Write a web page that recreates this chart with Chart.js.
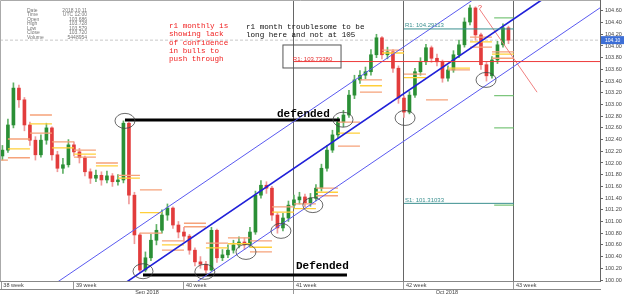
<!DOCTYPE html>
<html>
<head>
<meta charset="utf-8">
<title>USDJPY H1 channel</title>
<script src="https://cdn.jsdelivr.net/npm/chart.js@4.4.1/dist/chart.umd.min.js"></script>
<style>
  body { margin: 0; background: #fff; }
  #chart { display: block; }
</style>
</head>
<body>
<canvas id="chart" width="625" height="294"></canvas>
<script>
// x unit = trading day, day 0 starts on the first full day shown
var dayMin = -0.36, dayMax = 26.91;
var priceMin = 99.983, priceMax = 104.786;

// one price bar every quarter day
var firstBarDay = -0.25;
var barStep = 0.25;
var firstOpen = 102.12;
var closes = [
  102.22, 102.65, 103.28, 103.08, 102.65, 102.39, 102.14, 102.39, 102.60, 102.14,
  101.91, 101.97, 102.31, 102.19, 102.09, 101.85, 101.74, 101.79, 101.71, 101.78,
  101.68, 101.71, 102.68, 101.45, 100.77, 100.17, 100.38, 100.68, 100.85, 101.11,
  101.23, 100.94, 100.82, 100.75, 100.51, 100.31, 100.27, 100.17, 100.85, 100.38,
  100.43, 100.51, 100.60, 100.65, 100.60, 100.82, 101.45, 101.62, 101.57, 101.11,
  100.89, 101.06, 101.28, 101.37, 101.42, 101.32, 101.40, 101.57, 101.91, 102.22,
  102.48, 102.70, 102.82, 103.16, 103.42, 103.50, 103.56, 103.85, 104.14, 103.85,
  103.90, 103.62, 103.11, 102.87, 103.16, 103.56, 103.73, 103.97, 103.79, 103.73,
  103.45, 103.59, 103.85, 104.02, 104.41, 104.65, 104.19, 103.68, 103.49, 103.76,
  104.02, 104.31, 104.10
];
var highs = [
  102.30, 102.75, 103.37, 103.33, 103.12, 102.70, 102.45, 102.48, 102.68, 102.62,
  102.20, 102.08, 102.40, 102.36, 102.25, 102.12, 101.90, 101.88, 101.85, 101.86,
  101.82, 101.80, 102.72, 102.70, 101.50, 100.80, 100.48, 100.78, 100.95, 101.20,
  101.30, 101.25, 101.00, 100.90, 100.78, 100.55, 100.40, 100.32, 100.90, 100.87,
  100.52, 100.60, 100.68, 100.74, 100.72, 100.90, 101.52, 101.70, 101.68, 101.60,
  101.15, 101.14, 101.35, 101.45, 101.50, 101.47, 101.48, 101.63, 101.98, 102.30,
  102.56, 102.78, 102.90, 103.24, 103.50, 103.58, 103.64, 103.94, 104.20, 104.16,
  103.98, 103.94, 103.66, 103.15, 103.22, 103.62, 103.80, 104.03, 104.00, 103.86,
  103.76, 103.66, 103.92, 104.10, 104.48, 104.70, 104.67, 104.22, 103.72, 103.82,
  104.08, 104.38, 104.34
];
var lows = [
  102.05, 102.18, 102.60, 102.95, 102.55, 102.30, 102.05, 102.10, 102.32, 102.05,
  101.85, 101.82, 101.93, 102.12, 102.00, 101.78, 101.65, 101.68, 101.62, 101.66,
  101.60, 101.62, 101.66, 101.30, 100.62, 100.12, 100.14, 100.33, 100.60, 100.80,
  101.02, 100.88, 100.72, 100.66, 100.44, 100.24, 100.20, 100.12, 100.15, 100.30,
  100.33, 100.38, 100.46, 100.55, 100.52, 100.56, 100.78, 101.40, 101.48, 101.02,
  100.80, 100.84, 101.00, 101.22, 101.30, 101.25, 101.26, 101.35, 101.52, 101.86,
  102.18, 102.42, 102.62, 102.78, 103.10, 103.36, 103.44, 103.50, 103.80, 103.78,
  103.78, 103.55, 103.02, 102.78, 102.84, 103.12, 103.50, 103.68, 103.72, 103.66,
  103.38, 103.40, 103.55, 103.80, 103.98, 104.36, 104.10, 103.60, 103.40, 103.45,
  103.70, 103.98, 104.04
];

// daily pivot levels [day, price]
var orangeLevels = [
  [-1, 102.05], [0, 102.41], [0, 102.09], [1, 102.82], [1, 102.51], [2, 102.36],
  [3, 102.22], [3, 102.10], [4, 102.00], [5, 101.79], [6, 101.54], [6, 100.80],
  [7, 100.67], [7, 100.51], [8, 100.97], [8, 100.91], [9, 100.63], [10, 100.72],
  [11, 100.67], [11, 100.48], [12, 101.25], [13, 101.30], [14, 101.57], [14, 101.44],
  [15, 102.70], [15, 102.29], [16, 103.42], [16, 103.21], [17, 103.93], [18, 103.52],
  [19, 103.08], [20, 103.59], [21, 104.15], [21, 103.98], [22, 103.90], [22, 103.79]
];
var yellowLevels = [
  [0, 102.24], [1, 102.67], [2, 102.26], [3, 102.15], [4, 101.95], [5, 101.74],
  [6, 101.15], [7, 100.60], [9, 100.55], [10, 100.62], [11, 100.56], [12, 101.16],
  [13, 101.22], [14, 101.50], [15, 102.51], [16, 103.32], [17, 103.88], [18, 103.46],
  [20, 103.62], [21, 104.07], [22, 103.86]
];
var weeklyLevels = [[22.1, 104.48], [22.1, 103.15], [22.1, 102.60], [22.1, 101.28]];

var monthlyR1 = 103.7338;
var r1Level = 104.29113;
var s1Level = 101.31033;

// hand drawn channel and marks
var channelUpper = [[2.27, 99.97], [21.14, 104.79]];
var channelMid = [[5.41, 99.97], [24.27, 104.79]];
var channelLower = [[8.59, 99.97], [27.45, 104.79]];
var redArrow = [[21.45, 104.62], [24.05, 103.21]];
var defendedTop = [[5.32, 102.735], [15.09, 102.735]];
var defendedBottom = [[6.14, 100.085], [15.41, 100.085]];
var circleMarks = [
  [5.32, 102.72], [6.14, 100.15], [8.95, 100.14], [10.82, 100.48], [12.41, 100.84],
  [13.86, 101.28], [15.23, 102.74], [18.05, 102.77], [21.73, 103.42]
];

var weekTicks = [-0.3, 3, 8, 13, 18, 23];
var weekLabels = ["38 week", "39 week", "40 week", "41 week", "42 week", "43 week"];
var monthBreak = 13;
var monthTickDays = [6.32, 13, 19.95];
var monthTickLabels = ["Sep 2018", "", "Oct 2018"];
var priceTicks = [100.0, 100.2, 100.4, 100.6, 100.8, 101.0, 101.2, 101.4, 101.6, 101.8,
  102.0, 102.2, 102.4, 102.6, 102.8, 103.0, 103.2, 103.4, 103.6, 103.8,
  104.0, 104.2, 104.4, 104.6];

var infoRows = [["Date", "2018.10.11"], ["Time", "UTC 12:00"], ["Open", "103.686"],
  ["High", "103.728"], ["Low", "103.579"], ["Close", "103.720"], ["Volume", "5448954"]];

var lastClose = closes[closes.length - 1];

function pts(pairs) {
  return pairs.map(function (p) { return { x: p[0], y: p[1] }; });
}

function segments(levels, len) {
  var out = [];
  levels.forEach(function (l) {
    out.push({ x: l[0], y: l[1] }, { x: l[0] + len, y: l[1] }, { x: l[0] + len, y: null });
  });
  return out;
}

function lineSet(data, color, width, extra) {
  var ds = {
    type: 'line', data: data, borderColor: color, borderWidth: width,
    pointRadius: 0, fill: false, tension: 0, xAxisID: 'x', yAxisID: 'y', order: 1
  };
  for (var k in extra) ds[k] = extra[k];
  return ds;
}

var candleData = closes.map(function (c, i) {
  var open = i === 0 ? firstOpen : closes[i - 1];
  return { x: firstBarDay + i * barStep, y: [open, c] };
});
var wickData = closes.map(function (c, i) {
  return { x: firstBarDay + i * barStep, y: [lows[i], highs[i]] };
});
var bodyColors = candleData.map(function (d) {
  return d.y[1] >= d.y[0] ? '#2a8f35' : '#e23c3c';
});
var wickColors = candleData.map(function (d) {
  return d.y[1] >= d.y[0] ? '#5fb065' : '#f09a9a';
});

var overlay = {
  id: 'overlay',
  afterDatasetsDraw: function (chart) {
    var ctx = chart.ctx, area = chart.chartArea;
    var xs = chart.scales.x, ys = chart.scales.y;
    function px(d) { return xs.getPixelForValue(d); }
    function py(p) { return ys.getPixelForValue(p); }

    ctx.save();
    ctx.beginPath();
    ctx.rect(area.left, area.top, area.right - area.left, area.bottom - area.top);
    ctx.clip();

    // circled swing points
    ctx.strokeStyle = '#444';
    ctx.lineWidth = 0.8;
    circleMarks.forEach(function (c) {
      ctx.beginPath();
      ctx.ellipse(px(c[0]), py(c[1]), 10, 7.5, 0, 0, Math.PI * 2);
      ctx.stroke();
    });

    // box around the monthly R1 tag
    ctx.strokeStyle = '#555';
    ctx.lineWidth = 1;
    ctx.strokeRect(px(12.5), py(104.017), px(15.14) - px(12.5), py(103.624) - py(104.017));

    ctx.textBaseline = 'alphabetic';
    ctx.font = '6px "Liberation Sans"';
    ctx.fillStyle = '#e53030';
    ctx.fillText('R1: 103.73380', px(12.95), py(monthlyR1) - 1);
    ctx.fillStyle = '#3a8f8f';
    ctx.fillText('R1: 104.29113', px(18) + 1, py(r1Level) - 1.5);
    ctx.fillText('S1: 101.31033', px(18) + 1, py(s1Level) - 1.5);
    ctx.fillStyle = '#e53030';
    ctx.font = '7px "Liberation Sans"';
    ctx.fillText('?', px(21.36), py(104.62));

    // notes
    ctx.textBaseline = 'middle';
    ctx.font = '7.6px "Liberation Mono"';
    ctx.fillStyle = '#f01e1e';
    ["r1 monthly is", "showing lack", "of confidence", "in bulls to", "push through"]
      .forEach(function (t, i) { ctx.fillText(t, px(7.32), py(104.34) + i * 8.3); });
    ctx.fillStyle = '#111';
    ["r1 month troublesome to be", "long here and not at 105"]
      .forEach(function (t, i) { ctx.fillText(t, px(10.82), py(104.32) + i * 7.8); });

    ctx.textBaseline = 'alphabetic';
    ctx.font = 'bold 11px "Liberation Mono"';
    ctx.fillStyle = '#000';
    ctx.fillText('defended', px(12.23), py(defendedTop[0][1]) - 3);
    ctx.fillText('Defended', px(13.09), py(defendedBottom[0][1]) - 6);
    ctx.restore();
  },
  afterDraw: function (chart) {
    var ctx = chart.ctx, area = chart.chartArea, ys = chart.scales.y;
    ctx.save();
    // frame top and left
    ctx.strokeStyle = '#aaa';
    ctx.lineWidth = 1;
    ctx.beginPath();
    ctx.moveTo(area.left + 0.5, area.bottom);
    ctx.lineTo(area.left + 0.5, area.top + 0.5);
    ctx.lineTo(area.right, area.top + 0.5);
    ctx.stroke();

    // data window
    ctx.font = '5px "Liberation Sans"';
    ctx.fillStyle = '#777';
    ctx.textBaseline = 'middle';
    infoRows.forEach(function (r, i) {
      ctx.textAlign = 'left';
      ctx.fillText(r[0], area.left + 27, area.top + 10.5 + i * 4.5);
      ctx.textAlign = 'right';
      ctx.fillText(r[1], area.left + 87, area.top + 10.5 + i * 4.5);
    });

    // last price tag on the axis
    var y = ys.getPixelForValue(lastClose);
    ctx.fillStyle = '#3d6fd6';
    ctx.fillRect(area.right + 1, y - 4, 23, 8);
    ctx.fillStyle = '#fff';
    ctx.textAlign = 'left';
    ctx.fillText(lastClose.toFixed(2), area.right + 5, y);
    ctx.restore();
  }
};

Chart.defaults.font.family = 'Liberation Sans';

new Chart(document.getElementById('chart').getContext('2d'), {
  type: 'line',
  data: {
    datasets: [
      {
        type: 'bar', data: wickData, backgroundColor: wickColors, borderWidth: 0, grouped: false,
        barThickness: 1, xAxisID: 'x', yAxisID: 'y', order: 6
      },
      {
        type: 'bar', data: candleData, backgroundColor: bodyColors, borderWidth: 0, grouped: false,
        barThickness: 3, xAxisID: 'x', yAxisID: 'y', order: 5
      },
      lineSet(segments(orangeLevels, 1), '#f6a27a', 1.3, { order: 4 }),
      lineSet(segments(yellowLevels, 1), '#ffcf3a', 1.3, { order: 4 }),
      lineSet(segments(weeklyLevels, 0.9), '#5cb85c', 1, { order: 3 }),
      lineSet([{ x: dayMin, y: lastClose }, { x: dayMax, y: lastClose }], '#c8c8c8', 1, { borderDash: [3, 2], order: 7 }),
      lineSet([{ x: monthBreak, y: monthlyR1 }, { x: dayMax, y: monthlyR1 }], '#ee3a3a', 1),
      lineSet([{ x: 18, y: r1Level }, { x: 23, y: r1Level }], '#3a8f8f', 1),
      lineSet([{ x: 18, y: s1Level }, { x: 23, y: s1Level }], '#3a8f8f', 1),
      lineSet(pts(channelUpper), '#5a5af0', 1),
      lineSet(pts(channelMid), '#2020d8', 1.6),
      lineSet(pts(channelLower), '#5a5af0', 1),
      lineSet(pts(redArrow), '#f08080', 1),
      lineSet(pts(defendedTop), '#000', 3),
      lineSet(pts(defendedBottom), '#000', 3)
    ]
  },
  options: {
    responsive: false,
    animation: false,
    devicePixelRatio: 1,
    layout: { padding: 0 },
    plugins: { legend: { display: false }, tooltip: { enabled: false } },
    scales: {
      x: {
        type: 'linear', position: 'bottom', min: dayMin, max: dayMax, bounds: 'data', weight: 0, offset: false,
        afterBuildTicks: function (s) { s.ticks = weekTicks.map(function (v) { return { value: v }; }); },
        afterFit: function (s) { s.height = 8; s.paddingLeft = 0; s.paddingRight = 0; },
        ticks: {
          autoSkip: false, maxRotation: 0, align: 'start', labelOffset: 2, padding: -7,
          color: '#444', font: { size: 5.5 },
          callback: function (v, i) { return weekLabels[i]; }
        },
        grid: {
          offset: false,
          color: function (c) { return c.tick && c.tick.value >= monthBreak ? '#666' : 'rgba(0,0,0,0)'; },
          tickColor: '#999', tickLength: 8, lineWidth: 1
        },
        border: { color: '#888' }
      },
      x2: {
        type: 'linear', position: 'bottom', min: dayMin, max: dayMax, bounds: 'data', weight: 1, offset: false,
        afterBuildTicks: function (s) { s.ticks = monthTickDays.map(function (v) { return { value: v }; }); },
        afterFit: function (s) { s.height = 5; s.paddingLeft = 0; s.paddingRight = 0; },
        ticks: {
          autoSkip: false, maxRotation: 0, padding: -5, color: '#444', font: { size: 5.5 },
          callback: function (v, i) { return monthTickLabels[i]; }
        },
        grid: {
          offset: false, drawOnChartArea: false, tickLength: 5,
          tickColor: function (c) { return c.tick && c.tick.value === monthBreak ? '#999' : 'rgba(0,0,0,0)'; }
        },
        border: { color: '#888' }
      },
      y: {
        type: 'linear', position: 'right', min: priceMin, max: priceMax, bounds: 'data',
        afterBuildTicks: function (s) { s.ticks = priceTicks.map(function (v) { return { value: v }; }); },
        afterFit: function (s) { s.width = 25; s.paddingTop = 0; s.paddingBottom = 0; },
        ticks: {
          autoSkip: false, padding: 2, color: '#444', font: { size: 5.5 },
          callback: function (v) { return v.toFixed(2); }
        },
        grid: { drawOnChartArea: false, tickLength: 3, tickColor: '#666' },
        border: { color: '#666' }
      }
    }
  },
  plugins: [overlay]
});
</script>
</body>
</html>
